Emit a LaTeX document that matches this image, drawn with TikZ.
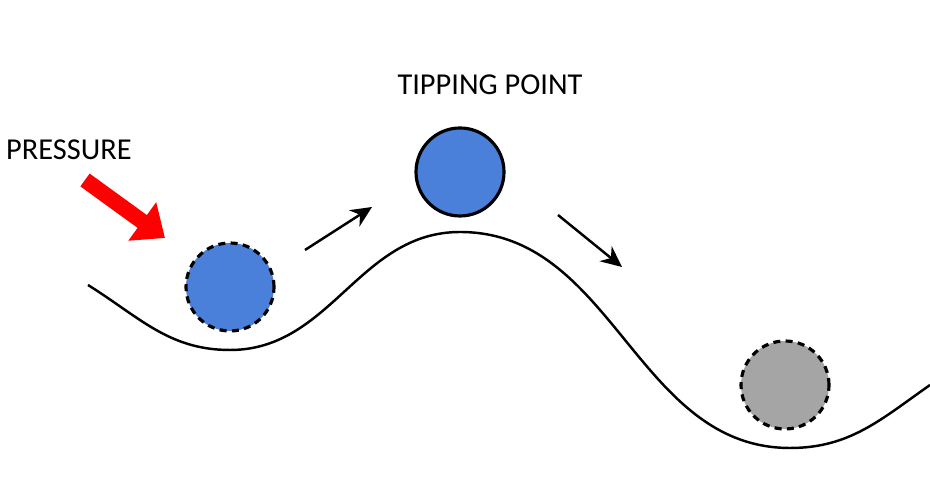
\documentclass[tikz,border=0pt]{standalone}
\usepackage{fontspec}
\setmainfont{Carlito}
\usetikzlibrary{arrows.meta, positioning}
\definecolor{ballblue}{HTML}{4A7FDA}
\definecolor{ballgray}{HTML}{A5A5A5}

\begin{document}
\begin{tikzpicture}[>={Stealth[length=12pt, width=11pt]}, line width=1.4pt]
        \tikzstyle{ball} = [circle, draw=black, line width=1.8pt, fill=ballblue, minimum size=1.76cm, inner sep=0pt]
        \tikzstyle{ghost} = [ball, dashed, dash pattern=on 4pt off 3pt]
        \tikzstyle{label} = [font=\LARGE, inner sep=0pt]
        \useasboundingbox (0,0) rectangle (18.6,10);

        % landscape
        \draw (1.76,4.3) to[out=-32, in=180] (4.6,3.0)
                         to[out=0, in=180] (9.2,5.36)
                         to[out=0, in=180] (15.8,1.04)
                         to[out=0, in=215] (18.6,2.3);

        \node[ghost](start) at (4.6,4.26) {};
        \node[ball](top) at (9.2,6.56) {};
        \node[ghost, fill=ballgray](rest) at (15.7,2.3) {};

        \node[label, anchor=west](pressure) at (0.1,7.0) {PRESSURE};
        \node[label](tipping) at (9.8,8.3) {TIPPING POINT};

        \coordinate (push_a) at (1.7,6.4);
        \coordinate (push_b) at (3.3,5.24);
        \coordinate (up_a) at (6.1,5.0);
        \coordinate (up_b) at (7.44,5.86);
        \coordinate (down_a) at (11.16,5.7);
        \coordinate (down_b) at (12.44,4.66);

        \draw[red, line width=9pt, -{Triangle[length=16pt, width=26pt]}] (push_a) -- (push_b);
        \draw[->] (up_a) -- (up_b);
        \draw[->] (down_a) -- (down_b);
\end{tikzpicture}
\end{document}
